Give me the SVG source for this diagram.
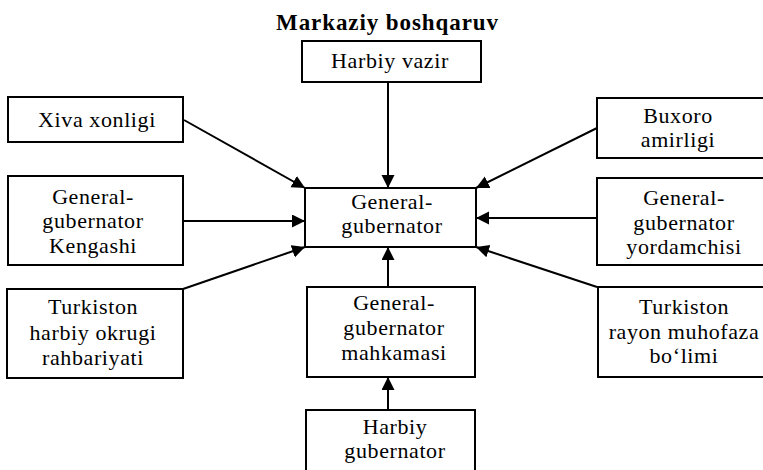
<svg xmlns="http://www.w3.org/2000/svg" width="763" height="470" viewBox="0 0 763 470">
<style>
.box{fill:#fff;stroke:#000;stroke-width:2}
.t{font-family:"Liberation Serif","Times New Roman",serif;font-size:22px;letter-spacing:0.6px;text-anchor:middle;fill:#000}
.title{font-family:"Liberation Serif","Times New Roman",serif;font-size:23px;font-weight:bold;text-anchor:middle;fill:#000}
.c{stroke:#000;stroke-width:2;fill:none;marker-end:url(#ah)}
</style>
<defs>
<marker id="ah" markerUnits="userSpaceOnUse" markerWidth="14" markerHeight="14" refX="13" refY="6.5" orient="auto">
<path d="M0,0 L13,6.5 L0,13 z" fill="#000"/>
</marker>
</defs>
<rect width="763" height="470" fill="#fff"/>
<text class="title" x="387" y="30" textLength="222" lengthAdjust="spacing">Markaziy boshqaruv</text>
<g id="connectors">
<line class="c" x1="388" y1="82" x2="388" y2="188"/>
<line class="c" x1="184" y1="120" x2="305" y2="188"/>
<line class="c" x1="183" y1="221" x2="305" y2="221"/>
<line class="c" x1="183" y1="289" x2="305" y2="247"/>
<line class="c" x1="597" y1="128" x2="476" y2="188"/>
<line class="c" x1="597" y1="218" x2="476" y2="218"/>
<line class="c" x1="597" y1="287" x2="476" y2="247"/>
<line class="c" x1="388" y1="287" x2="388" y2="247"/>
<line class="c" x1="388" y1="410" x2="388" y2="377"/>
</g>
<g id="harbiy-vazir">
<rect class="box" x="302" y="41" width="179" height="41"/>
<text class="t" x="390" y="68">Harbiy vazir</text>
</g>
<g id="xiva">
<rect class="box" x="8" y="97" width="175" height="45"/>
<text class="t" x="97" y="127">Xiva xonligi</text>
</g>
<g id="kengashi">
<rect class="box" x="8" y="176" width="175" height="89"/>
<text class="t" x="93" y="203.5">General-</text>
<text class="t" x="93" y="228">gubernator</text>
<text class="t" x="93" y="252.5">Kengashi</text>
</g>
<g id="turkiston-okrug">
<rect class="box" x="7" y="289" width="176" height="89"/>
<text class="t" x="93" y="314">Turkiston</text>
<text class="t" x="93" y="339.5">harbiy okrugi</text>
<text class="t" x="93" y="365">rahbariyati</text>
</g>
<g id="general-gubernator">
<rect class="box" x="305" y="188" width="171" height="59"/>
<text class="t" x="392" y="209">General-</text>
<text class="t" x="392" y="233">gubernator</text>
</g>
<g id="buxoro">
<rect class="box" x="597" y="98" width="175" height="60"/>
<text class="t" x="678" y="122.5">Buxoro</text>
<text class="t" x="678" y="147">amirligi</text>
</g>
<g id="yordamchisi">
<rect class="box" x="597" y="178" width="175" height="87"/>
<text class="t" x="684" y="205">General-</text>
<text class="t" x="684" y="229.5">gubernator</text>
<text class="t" x="684" y="254">yordamchisi</text>
</g>
<g id="turkiston-rayon">
<rect class="box" x="598" y="287" width="174" height="90"/>
<text class="t" x="684" y="314">Turkiston</text>
<text class="t" x="684" y="338.5">rayon muhofaza</text>
<text class="t" x="684" y="362.5">bo‘limi</text>
</g>
<g id="mahkamasi">
<rect class="box" x="307" y="287" width="168" height="90"/>
<text class="t" x="394" y="310">General-</text>
<text class="t" x="394" y="335">gubernator</text>
<text class="t" x="394" y="360">mahkamasi</text>
</g>
<g id="harbiy-gubernator">
<rect class="box" x="306" y="410" width="169" height="75"/>
<text class="t" x="395" y="434">Harbiy</text>
<text class="t" x="395" y="458">gubernator</text>
</g>
</svg>
